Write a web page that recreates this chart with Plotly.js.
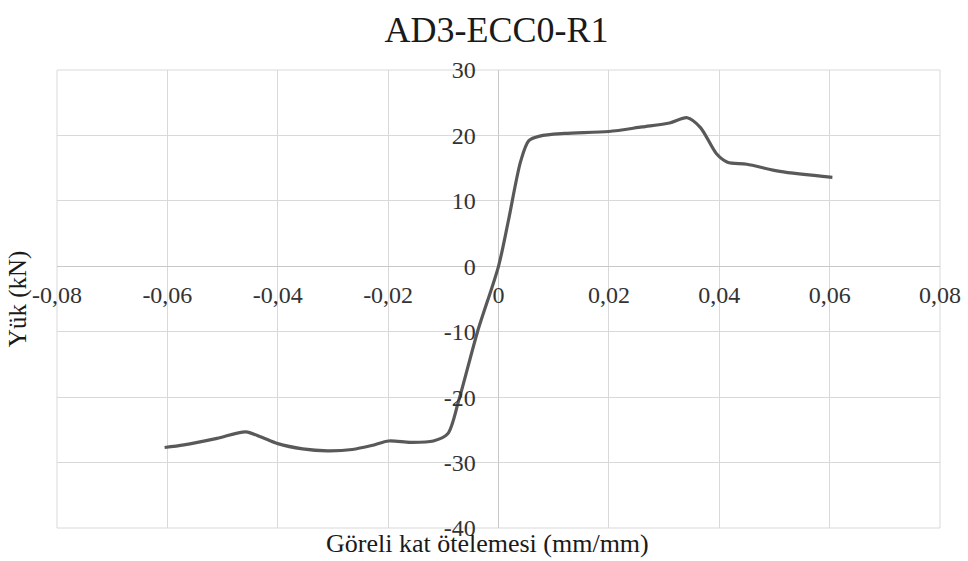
<!DOCTYPE html>
<html>
<head>
<meta charset="utf-8">
<script src="https://cdn.plot.ly/plotly-3.0.1.min.js"></script>
<style>html,body{margin:0;padding:0;background:#fff;}#chart{width:968px;height:561px;}</style>
</head>
<body>
<div id="chart"></div>
<script>
// Göreli kat ötelemesi (mm/mm)
const driftValues = [-0.0605, -0.057, -0.051, -0.0458, -0.043, -0.040, -0.0355, -0.031, -0.0265, -0.023, -0.0199, -0.016, -0.0118, -0.0092, -0.0072, -0.0038, 0, 0.0018, 0.004, 0.0055, 0.0075, 0.012, 0.02, 0.026, 0.031, 0.0342, 0.0366, 0.0395, 0.0415, 0.045, 0.051, 0.0605];
// Yük (kN)
const loadValues = [-27.7, -27.3, -26.3, -25.3, -26.1, -27.1, -27.9, -28.2, -28.0, -27.4, -26.7, -26.9, -26.7, -25.6, -20.5, -10, 0, 7, 16, 19.2, 19.9, 20.3, 20.6, 21.3, 21.9, 22.7, 21.2, 17.2, 15.9, 15.6, 14.5, 13.6];

const xTickVals = [-0.08, -0.06, -0.04, -0.02, 0, 0.02, 0.04, 0.06, 0.08];
const xTickText = ['-0,08', '-0,06', '-0,04', '-0,02', '0', '0,02', '0,04', '0,06', '0,08'];
const yTickVals = [-40, -30, -20, -10, 0, 10, 20, 30];
const yTickText = ['-40', '-30', '-20', '-10', '0', '10', '20', '30'];

const chartTitle = 'AD3-ECC0-R1';
const xTitle = 'Göreli kat ötelemesi (mm/mm)';
const yTitle = 'Yük (kN)';

const serif = '"Liberation Serif", "Times New Roman", serif';

const trace = {
  x: driftValues,
  y: loadValues,
  type: 'scatter',
  mode: 'lines',
  line: {color: '#595959', width: 3.2, shape: 'spline', smoothing: 0.8},
  hoverinfo: 'skip'
};

const layout = {
  width: 968,
  height: 561,
  margin: {l: 57, r: 28, t: 70, b: 33},
  paper_bgcolor: '#ffffff',
  plot_bgcolor: '#ffffff',
  showlegend: false,
  font: {family: serif},
  title: {
    text: chartTitle,
    font: {family: serif, size: 36, color: '#1a1a1a'},
    x: 0.513, xanchor: 'center',
    y: 0.948, yanchor: 'middle'
  },
  xaxis: {
    range: [-0.08, 0.08],
    tickmode: 'array',
    tickvals: xTickVals,
    ticktext: xTickText,
    anchor: 'free',
    position: 40 / 70,
    showgrid: true,
    gridcolor: '#d9d9d9',
    gridwidth: 1,
    zeroline: true,
    zerolinecolor: '#c8c8c8',
    zerolinewidth: 1,
    showline: false,
    ticks: 'outside',
    ticklen: 7,
    tickcolor: 'rgba(0,0,0,0)',
    tickfont: {family: serif, size: 24, color: '#333333'},
    fixedrange: true
  },
  yaxis: {
    range: [-40, 30],
    tickmode: 'array',
    tickvals: yTickVals,
    ticktext: yTickText,
    anchor: 'free',
    position: 0.5,
    showgrid: true,
    gridcolor: '#d9d9d9',
    gridwidth: 1,
    zeroline: true,
    zerolinecolor: '#c8c8c8',
    zerolinewidth: 1,
    showline: false,
    ticks: 'outside',
    ticklen: 18,
    tickcolor: 'rgba(0,0,0,0)',
    tickfont: {family: serif, size: 24, color: '#333333'},
    fixedrange: true
  },
  shapes: [
    {type: 'rect', xref: 'paper', yref: 'paper', x0: 0, x1: 1, y0: 0, y1: 1,
     line: {color: '#d9d9d9', width: 1}, fillcolor: 'rgba(0,0,0,0)', layer: 'below'}
  ],
  annotations: [
    {
      text: xTitle, xref: 'paper', yref: 'paper',
      x: 0.487, y: -0.033, xanchor: 'center', yanchor: 'middle',
      showarrow: false,
      font: {family: serif, size: 26, color: '#1a1a1a'}
    },
    {
      text: yTitle, xref: 'paper', yref: 'paper',
      x: -0.044, y: 0.5, xanchor: 'center', yanchor: 'middle',
      textangle: -90, showarrow: false,
      font: {family: serif, size: 25, color: '#1a1a1a'}
    }
  ]
};

Plotly.newPlot('chart', [trace], layout, {staticPlot: true, displayModeBar: false});
</script>
</body>
</html>
